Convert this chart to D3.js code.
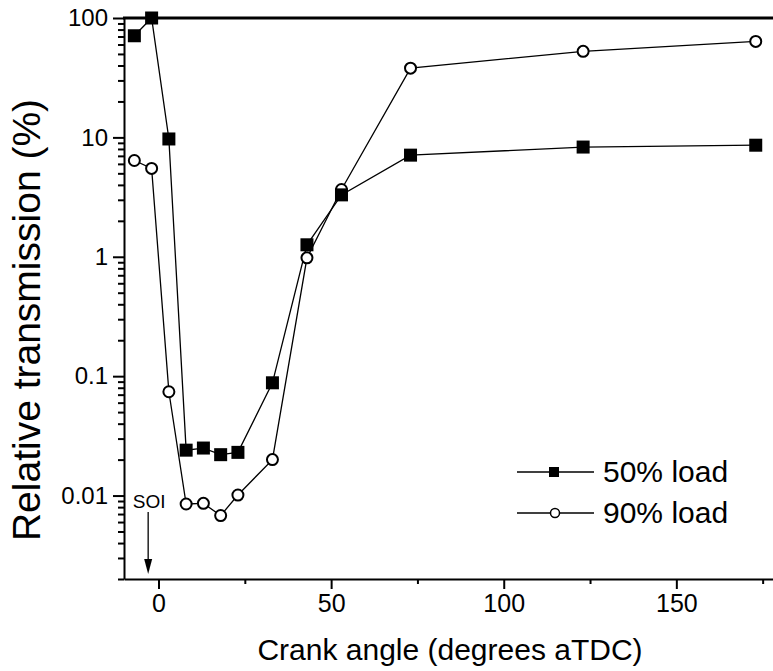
<!DOCTYPE html>
<html>
<head>
<meta charset="utf-8">
<script src="https://cdn.jsdelivr.net/npm/d3@7"></script>
<style>
    body { margin: 0; background: #fff; }
    svg { display: block; font-family: "Liberation Sans", Arial, sans-serif; }
    .axis path, .axis line { stroke: #000; stroke-width: 2; }
    .axis text { fill: #000; }
</style>
</head>
<body>
<div id="chart"></div>
<script>
// crank angle (degrees aTDC) of each measurement
const crankAngle = [-7, -2, 3, 8, 13, 18, 23, 33, 43, 53, 73, 123, 173];
// relative transmission (%) per load
const load50 = [71, 100, 9.7, 0.024, 0.025, 0.022, 0.023, 0.088, 1.26, 3.3, 7.1, 8.3, 8.6];
const load90 = [6.4, 5.5, 0.074, 0.0085, 0.0086, 0.0068, 0.0101, 0.020, 0.98, 3.66, 38, 52.6, 63.7];

const xMajorTicks = [0, 50, 100, 150];
const xMinorTicks = [25, 75, 125, 175];
const yMajorTicks = [0.01, 0.1, 1, 10, 100];
const yTickLabels = ["0.01", "0.1", "1", "10", "100"];
const soiAngle = -3;

const width = 773, height = 671;
const margin = {top: 18, right: 0, bottom: 92, left: 124};

const svg = d3.select("#chart").append("svg")
    .attr("width", width)
    .attr("height", height);

const x = d3.scaleLinear()
    .domain([-10, 178])
    .range([margin.left, width - margin.right]);

const y = d3.scaleLog()
    .domain([0.002, 100])
    .range([height - margin.bottom, margin.top]);

// minor ticks for log axis: 2..9 in each decade
let yMinorTicks = [];
[0.001, 0.01, 0.1, 1, 10].forEach(dec => {
    for (let k = 2; k <= 9; k++) {
        let v = dec * k;
        if (v >= 0.002 && v <= 100) yMinorTicks.push(v);
    }
});

// bottom axis
svg.append("g")
    .attr("class", "axis")
    .attr("transform", `translate(0, ${y.range()[0]})`)
    .call(d3.axisBottom(x).tickValues(xMinorTicks).tickSize(5).tickSizeOuter(0).tickFormat(""));

svg.append("g")
    .attr("class", "axis")
    .attr("transform", `translate(0, ${y.range()[0]})`)
    .call(d3.axisBottom(x).tickValues(xMajorTicks).tickSize(10).tickSizeOuter(0).tickPadding(5))
    .call(g => g.select(".domain").remove())
    .selectAll("text")
    .attr("font-size", 25)
    .attr("font-family", "Liberation Sans, Arial, sans-serif");

// left axis
svg.append("g")
    .attr("class", "axis")
    .attr("transform", `translate(${margin.left}, 0)`)
    .call(d3.axisLeft(y).tickValues(yMinorTicks).tickSize(6).tickSizeOuter(0).tickFormat(""));

svg.append("g")
    .attr("class", "axis")
    .attr("transform", `translate(${margin.left}, 0)`)
    .call(d3.axisLeft(y).tickValues(yMajorTicks).tickSize(11).tickSizeOuter(0).tickPadding(5)
        .tickFormat((d, i) => yTickLabels[i]))
    .call(g => g.select(".domain").remove())
    .selectAll("text")
    .attr("font-size", 24)
    .attr("font-family", "Liberation Sans, Arial, sans-serif");

// thick top frame line
svg.append("line")
    .attr("x1", margin.left - 1).attr("x2", width)
    .attr("y1", y(100)).attr("y2", y(100))
    .attr("stroke", "#000")
    .attr("stroke-width", 3);

// series lines
const line = d3.line()
    .x(d => x(d[0]))
    .y(d => y(d[1]));

const series50 = crankAngle.map((a, i) => [a, load50[i]]);
const series90 = crankAngle.map((a, i) => [a, load90[i]]);

[series50, series90].forEach(s => {
    svg.append("path")
        .datum(s)
        .attr("d", line)
        .attr("fill", "none")
        .attr("stroke", "#000")
        .attr("stroke-width", 1.3);
});

// 90% load circles
svg.selectAll(".pt90")
    .data(series90)
    .enter()
    .append("circle")
    .attr("class", "pt90")
    .attr("cx", d => x(d[0]))
    .attr("cy", d => y(d[1]))
    .attr("r", 5.5)
    .attr("fill", "#fff")
    .attr("stroke", "#000")
    .attr("stroke-width", 2);

// 50% load squares
const sq = 13;
svg.selectAll(".pt50")
    .data(series50)
    .enter()
    .append("rect")
    .attr("class", "pt50")
    .attr("x", d => x(d[0]) - sq / 2)
    .attr("y", d => y(d[1]) - sq / 2)
    .attr("width", sq)
    .attr("height", sq)
    .attr("fill", "#000");

// SOI marker
const soiX = x(soiAngle);
svg.append("text")
    .attr("x", soiX + 1)
    .attr("y", 508)
    .attr("text-anchor", "middle")
    .attr("font-size", 19)
    .text("SOI");

svg.append("line")
    .attr("x1", soiX).attr("x2", soiX)
    .attr("y1", 512).attr("y2", 562)
    .attr("stroke", "#000")
    .attr("stroke-width", 1.3);

svg.append("path")
    .attr("d", `M${soiX - 4},559 L${soiX + 4},559 L${soiX},574 Z`)
    .attr("fill", "#000");

// legend
const legend = svg.append("g");
const legendRows = [
    {label: "50% load", y: 472, marker: "square"},
    {label: "90% load", y: 513, marker: "circle"}
];
legendRows.forEach(r => {
    legend.append("line")
        .attr("x1", 517).attr("x2", 594)
        .attr("y1", r.y).attr("y2", r.y)
        .attr("stroke", "#000")
        .attr("stroke-width", 1.3);
    if (r.marker === "square") {
        legend.append("rect")
            .attr("x", 549).attr("y", r.y - 5)
            .attr("width", 10).attr("height", 10)
            .attr("fill", "#000");
    } else {
        legend.append("circle")
            .attr("cx", 555).attr("cy", r.y)
            .attr("r", 4.5)
            .attr("fill", "#fff")
            .attr("stroke", "#000")
            .attr("stroke-width", 1.5);
    }
    legend.append("text")
        .attr("x", 603)
        .attr("y", r.y + 10)
        .attr("font-size", 30)
        .text(r.label);
});

// axis titles
svg.append("text")
    .attr("x", 450)
    .attr("y", 660)
    .attr("text-anchor", "middle")
    .attr("font-size", 30)
    .text("Crank angle (degrees aTDC)");

svg.append("text")
    .attr("transform", `translate(40, 320) rotate(-90)`)
    .attr("text-anchor", "middle")
    .attr("font-size", 39)
    .text("Relative transmission (%)");
</script>
</body>
</html>
